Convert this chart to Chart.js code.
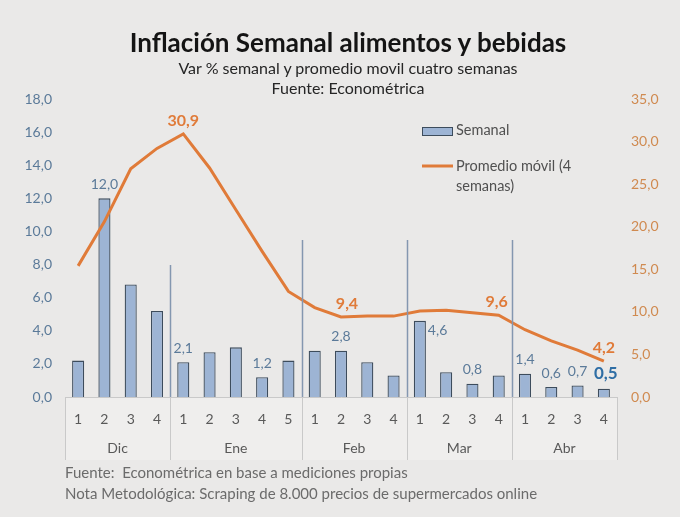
<!DOCTYPE html>
<html>
<head>
<meta charset="utf-8">
<script src="https://cdn.jsdelivr.net/npm/chart.js@4"></script>
<style>
    body { margin: 0; background: #eae9e8; font-family: Lato, "Open Sans", sans-serif; }
    #wrap { position: relative; width: 680px; height: 517px; background: #eae9e8; }
    #myChart { position: absolute; left: 0; top: 0; }
    .txt { position: absolute; white-space: nowrap; }
    #title { left: 0; width: 696px; top: 27px; text-align: center; font-size: 26px; font-weight: bold; color: #141414; line-height: 30px; }
    #sub1 { left: 0; width: 696px; top: 58px; text-align: center; font-size: 16px; color: #262626; line-height: 20px; }
    #sub2 { left: 0; width: 696px; top: 78px; text-align: center; font-size: 16px; color: #262626; line-height: 20px; }
    #foot1 { left: 65px; top: 462px; font-size: 15px; color: #6b6b6b; line-height: 20px; }
    #foot2 { left: 65px; top: 483px; font-size: 15px; color: #6b6b6b; line-height: 20px; }
</style>
</head>
<body>
<div id="wrap">
    <canvas id="myChart" width="680" height="517"></canvas>
    <div class="txt" id="title">Inflación Semanal alimentos y bebidas</div>
    <div class="txt" id="sub1">Var % semanal y promedio movil cuatro semanas</div>
    <div class="txt" id="sub2">Fuente: Econométrica</div>
    <div class="txt" id="foot1">Fuente:&nbsp; Econométrica en base a mediciones propias</div>
    <div class="txt" id="foot2">Nota Metodológica: Scraping de 8.000 precios de supermercados online</div>
</div>
<script>
// Data
const weekLabels = ["1", "2", "3", "4", "1", "2", "3", "4", "5", "1", "2", "3", "4", "1", "2", "3", "4", "1", "2", "3", "4"];
const months = ["Dic", "Ene", "Feb", "Mar", "Abr"];
const monthSizes = [4, 5, 4, 4, 4];
const semanal = [2.2, 12.0, 6.8, 5.2, 2.1, 2.7, 3.0, 1.2, 2.2, 2.8, 2.8, 2.1, 1.3, 4.6, 1.5, 0.8, 1.3, 1.4, 0.6, 0.7, 0.5];
const promedio = [15.4, 20.6, 26.8, 29.2, 30.9, 26.9, 22.0, 17.1, 12.4, 10.5, 9.4, 9.5, 9.5, 10.1, 10.2, 9.9, 9.6, 7.9, 6.6, 5.5, 4.2];
const leftTicks = [0, 18, 2];
const rightTicks = [0, 35, 5];

// Which points get a value label
const barLabelIdx = [1, 4, 7, 10, 13, 15, 17, 18, 19, 20];
const lineLabelIdx = [4, 10, 16, 20];

// Colors
const blueGray = "#5b7a99";
const orange = "#e07b39";
const ctx = document.querySelector("#myChart");

const fmt = v => v.toFixed(1).replace(".", ",");

// Draws month groups, separators, legend and value labels
const extras = {
    id: "extras",
    beforeDraw(chart) {
        const c = chart.ctx;
        const area = chart.chartArea;
        c.save();
        c.fillStyle = "#efeeed";
        c.fillRect(area.left, area.bottom, area.right - area.left, 63);
        c.restore();
    },
    afterDraw(chart) {
        const c = chart.ctx;
        const x = chart.scales.x;
        const area = chart.chartArea;
        const half = (x.getPixelForValue(1) - x.getPixelForValue(0)) / 2;
        c.save();

        // group separators and month names
        let start = 0;
        const tops = [null, 265, 240, 240, 240, null];
        c.font = "14px Lato";
        c.textAlign = "center";
        c.textBaseline = "middle";
        for (let m = 0; m <= months.length; m++) {
            const px = m < months.length ? x.getPixelForValue(start) - half : x.getPixelForValue(start - 1) + half;
            c.strokeStyle = "#c9c9c9";
            c.lineWidth = 1;
            c.beginPath();
            c.moveTo(Math.round(px) + 0.5, area.bottom);
            c.lineTo(Math.round(px) + 0.5, area.bottom + 63);
            c.stroke();
            if (tops[m] !== null) {
                c.strokeStyle = "#8497b0";
                c.lineWidth = 1.5;
                c.beginPath();
                c.moveTo(Math.round(px) + 0.5, tops[m]);
                c.lineTo(Math.round(px) + 0.5, area.bottom);
                c.stroke();
            }
            if (m < months.length) {
                const mid = (x.getPixelForValue(start) + x.getPixelForValue(start + monthSizes[m] - 1)) / 2;
                c.fillStyle = "#595959";
                c.fillText(months[m], mid, 448);
                start += monthSizes[m];
            }
        }

        // legend
        c.fillStyle = "#9db4d4";
        c.strokeStyle = "#3d4c5c";
        c.lineWidth = 1;
        c.fillRect(422, 127, 31, 8);
        c.strokeRect(422.5, 127.5, 30, 8);
        c.strokeStyle = orange;
        c.lineWidth = 3;
        c.beginPath();
        c.moveTo(422, 166);
        c.lineTo(453, 166);
        c.stroke();
        c.fillStyle = "#505050";
        c.textAlign = "left";
        c.font = "14.5px Lato";
        c.fillText("Semanal", 456, 130);
        c.fillText("Promedio móvil (4", 456, 166);
        c.fillText("semanas)", 456, 186);

        // bar labels
        const barMeta = chart.getDatasetMeta(1);
        barLabelIdx.forEach(i => {
            const el = barMeta.data[i];
            c.textAlign = "center";
            if (i === 20) {
                c.font = "bold 17px Lato";
                c.fillStyle = "#2f6ea5";
                c.fillText(fmt(semanal[i]), el.x + 2, el.y - 15);
            } else if (i === 13) {
                c.font = "14px Lato";
                c.fillStyle = blueGray;
                c.textAlign = "left";
                c.fillText(fmt(semanal[i]), el.x + 8, el.y + 10);
            } else {
                c.font = "14px Lato";
                c.fillStyle = blueGray;
                c.fillText(fmt(semanal[i]), el.x, el.y - 14);
            }
        });

        // line labels
        const lineMeta = chart.getDatasetMeta(0);
        c.font = "bold 16px Lato";
        c.fillStyle = orange;
        lineLabelIdx.forEach(i => {
            const el = lineMeta.data[i];
            c.textAlign = "center";
            const dx = i === 10 ? 6 : (i === 16 ? -2 : 0);
            c.fillText(fmt(promedio[i]), el.x + dx, el.y - 13);
        });
        c.restore();
    }
};

let inflationChart = new Chart(ctx, {
    data: {
        labels: weekLabels,
        datasets: [
            {
                type: "line",
                label: "Promedio móvil (4 semanas)",
                data: promedio,
                yAxisID: "y2",
                borderColor: orange,
                borderWidth: 3,
                pointRadius: 0,
                tension: 0,
                order: 0,
            },
            {
                type: "bar",
                label: "Semanal",
                data: semanal,
                yAxisID: "y",
                backgroundColor: "#9db4d4",
                borderColor: "#3d4c5c",
                borderWidth: 1.3,
                barPercentage: 0.46,
                categoryPercentage: 1,
                order: 1,
            },
        ]
    },
    options: {
        responsive: false,
        animation: false,
        layout: { padding: { top: 99, bottom: 57, left: 0, right: 0 } },
        plugins: {
            legend: { display: false },
            tooltip: { enabled: false },
        },
        scales: {
            x: {
                grid: { display: false, drawTicks: false },
                border: { color: "#c9c9c9" },
                ticks: { color: "#595959", font: { family: "Lato", size: 14 }, padding: 14, maxRotation: 0, autoSkip: false },
                afterFit: scale => { scale.height = 63; },
            },
            y: {
                position: "left",
                min: leftTicks[0],
                max: leftTicks[1],
                grid: { display: false, drawTicks: false },
                border: { display: false },
                ticks: { stepSize: leftTicks[2], color: blueGray, font: { family: "Lato", size: 14 }, padding: 13, callback: v => fmt(v) },
                afterFit: scale => { scale.width = 65; },
            },
            y2: {
                position: "right",
                min: rightTicks[0],
                max: rightTicks[1],
                grid: { display: false, drawTicks: false },
                border: { display: false },
                ticks: { stepSize: rightTicks[2], color: "#d08a50", font: { family: "Lato", size: 14 }, padding: 14, callback: v => fmt(v) },
                afterFit: scale => { scale.width = 63; },
            }
        }
    },
    plugins: [extras]
});
</script>
</body>
</html>
